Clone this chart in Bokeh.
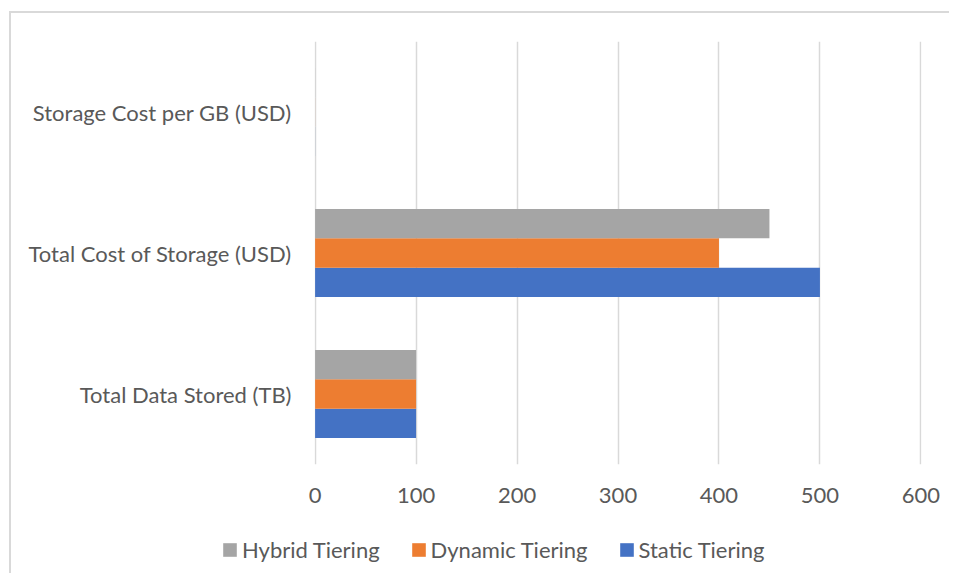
from bokeh.plotting import figure
from bokeh.layouts import column
from bokeh.models import ColumnDataSource, FactorRange, Range1d, Legend, LegendItem, FixedTicker
from bokeh.transform import dodge
from bokeh.embed import file_html
from bokeh.resources import INLINE

# ---- data ----
categories = ["Total Data Stored (TB)", "Total Cost of Storage (USD)", "Storage Cost per GB (USD)"]
static_tiering = [100, 500, 0.05]
dynamic_tiering = [100, 400, 0.04]
hybrid_tiering = [100, 450, 0.045]
series_names = ["Static Tiering", "Dynamic Tiering", "Hybrid Tiering"]
series_colors = ["#4472C4", "#ED7D31", "#A5A5A5"]
x_ticks = [0, 100, 200, 300, 400, 500, 600]

FONT = "Lato"
FSIZE = "22px"
TXT = "#595959"
GRID = "#d9d9d9"
W = 938

source = ColumnDataSource(dict(cat=categories, static=static_tiering,
                               dynamic=dynamic_tiering, hybrid=hybrid_tiering))

p = figure(width=W, height=503, y_range=FactorRange(*categories), x_range=Range1d(-0.6, 600.6),
           output_backend="svg", toolbar_location=None,
           min_border_left=303, min_border_right=28, min_border_top=28, min_border_bottom=52)
p.outline_line_color = None

bw = 0.208
p.hbar(y=dodge("cat", -bw, range=p.y_range), right="static", left=0, height=bw,
       source=source, fill_color=series_colors[0], line_color=None)
p.hbar(y=dodge("cat", 0, range=p.y_range), right="dynamic", left=0, height=bw,
       source=source, fill_color=series_colors[1], line_color=None)
p.hbar(y=dodge("cat", bw, range=p.y_range), right="hybrid", left=0, height=bw,
       source=source, fill_color=series_colors[2], line_color=None)

p.xaxis.ticker = FixedTicker(ticks=x_ticks)
p.xgrid.ticker = FixedTicker(ticks=x_ticks)
p.xgrid.grid_line_color = GRID
p.xgrid.grid_line_width = 1.5
p.ygrid.grid_line_color = None

for ax in (p.xaxis[0], p.yaxis[0]):
    ax.axis_line_color = None
    ax.major_tick_line_color = None
    ax.minor_tick_line_color = None
    ax.major_tick_out = 0
    ax.major_tick_in = 0
    ax.major_label_text_font = FONT
    ax.major_label_text_font_size = FSIZE
    ax.major_label_text_color = TXT
p.xaxis.major_label_standoff = 23
p.yaxis.major_label_standoff = 23

# ---- legend strip (separate figure so nothing clips it) ----
lg = figure(width=W, height=57, x_range=Range1d(0, 1), y_range=Range1d(0, 1),
            output_backend="svg", toolbar_location=None, frame_align=False,
            min_border=0, min_border_left=0, min_border_right=0, min_border_top=0, min_border_bottom=0)
lg.outline_line_color = None
lg.axis.visible = False
lg.grid.visible = False
items = []
for name, col in zip(series_names[::-1], series_colors[::-1]):
    # swatch-only renderer with zero extent (draws nothing itself)
    r = lg.hbar(y=[0.5], right=[0], left=0, height=0, fill_color=col, line_color=None)
    items.append(LegendItem(label=name, renderers=[r]))
legend = Legend(items=items, orientation="horizontal", location=(210, 10))
legend.label_text_font = FONT
legend.label_text_font_size = FSIZE
legend.label_text_color = TXT
legend.glyph_width = 17
legend.glyph_height = 17
legend.label_standoff = 4
legend.spacing = 30
legend.padding = 0
legend.margin = 0
legend.border_line_color = None
legend.background_fill_alpha = 0
lg.add_layout(legend, "center")

layout = column(p, lg, spacing=0, margin=(11, 0, 0, 9),
                styles={"border-left": "2px solid #d9d9d9", "border-top": "2px solid #d9d9d9"})

open("out.html", "w").write(file_html(layout, INLINE))
